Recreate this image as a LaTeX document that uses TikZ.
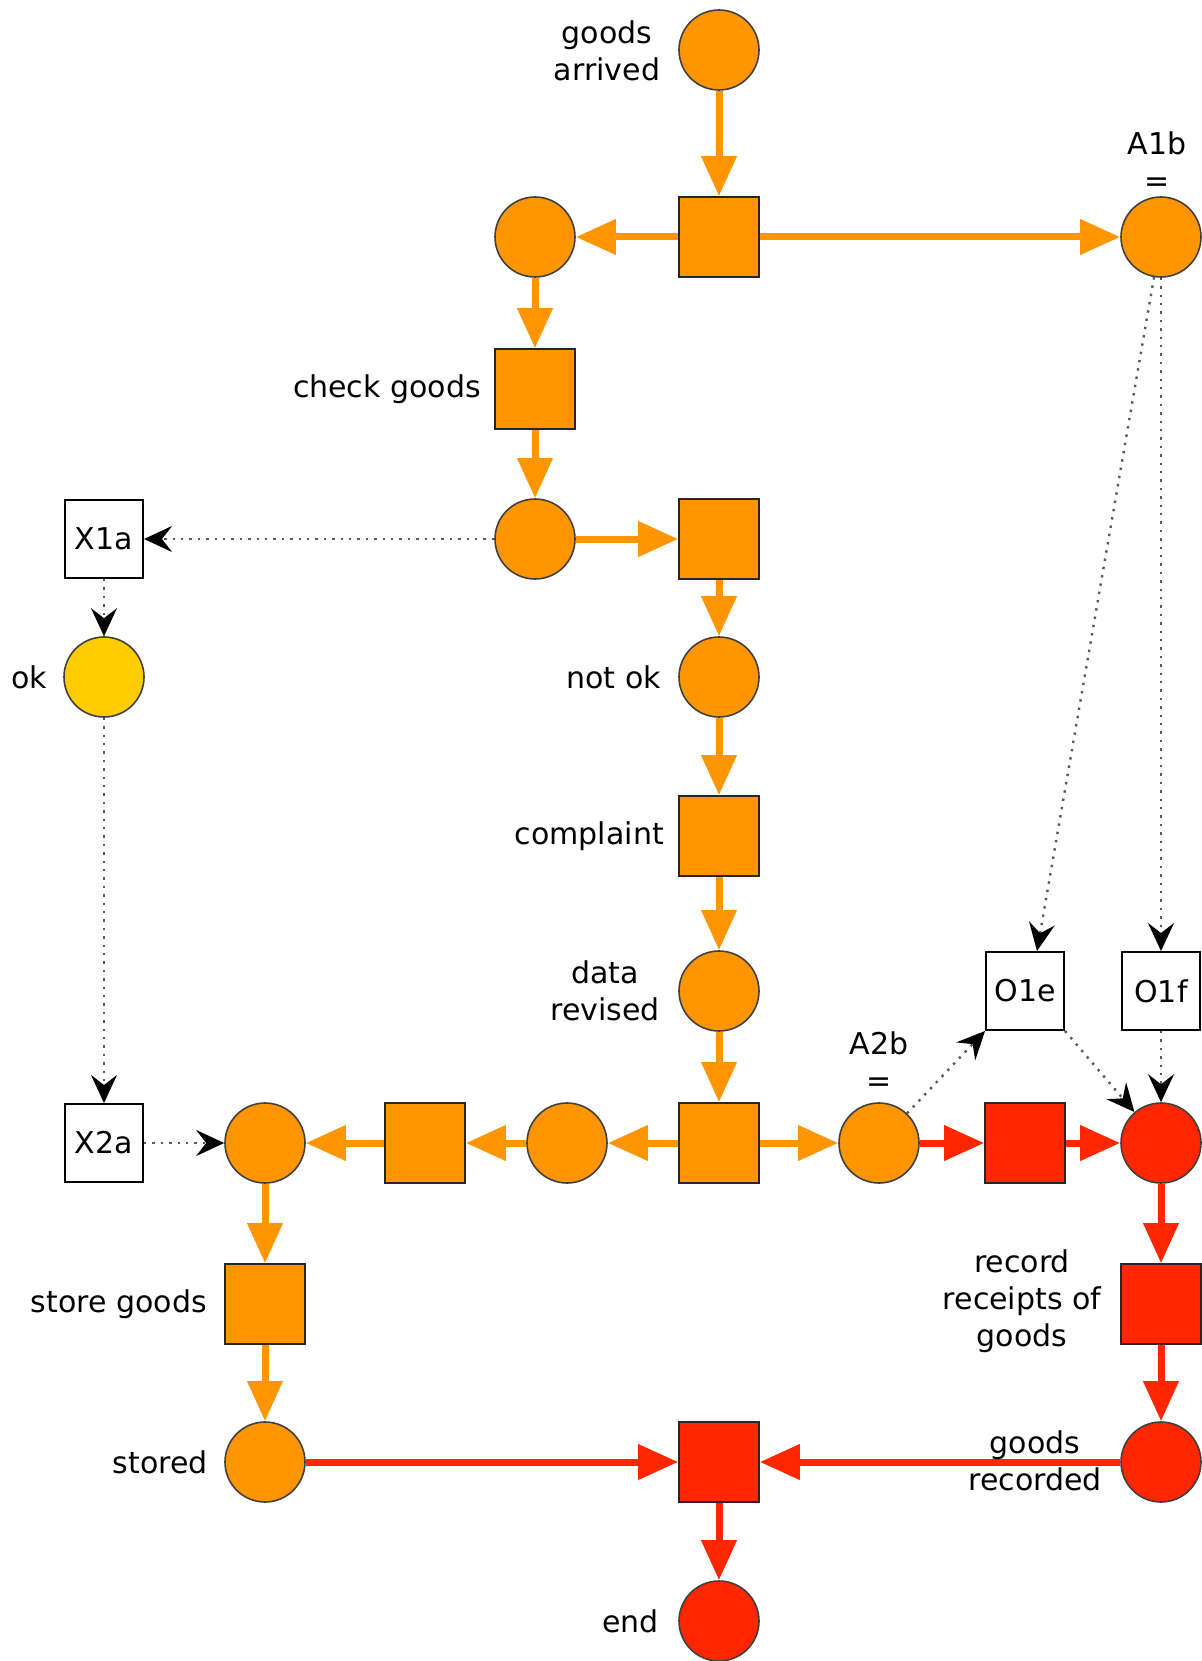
\documentclass[tikz,border=0pt]{standalone}
\usepackage{fontspec}
\setmainfont{DejaVu Sans}
\usetikzlibrary{arrows.meta}
\definecolor{orng}{HTML}{FF9500}
\definecolor{rd}{HTML}{FF2600}
\definecolor{yel}{HTML}{FFCC00}
\begin{document}
\begin{tikzpicture}[x=1pt,y=-1pt,
  font=\fontsize{30}{37}\selectfont,
  place/.style={circle, draw=black!75, line width=1.6pt, fill=orng, minimum size=80pt, inner sep=0pt},
  trans/.style={rectangle, draw=black!85, line width=1.6pt, fill=orng, minimum size=80pt, inner sep=0pt},
  box/.style={rectangle, draw=black, line width=2pt, fill=white, minimum size=78pt, inner sep=0pt},
  lbl/.style={align=center, inner sep=0pt},
  flow/.style={draw=orng, line width=7pt, -{Triangle[length=40pt,width=34pt]}},
  rflow/.style={draw=rd, line width=7pt, -{Triangle[length=40pt,width=34pt]}},
  dep/.style={draw=black!65, line width=2.4pt, dash pattern=on 2.4pt off 6pt, -{Stealth[length=28pt,width=26pt,inset=10pt,black]}}]
\useasboundingbox (0,0) rectangle (1201,1661);
% places and transitions
\node[place] (pa) at (719,50) {};
\node[trans] (t1) at (719,237) {};
\node[place] (p1) at (535,237) {};
\node[place] (a1b) at (1161,237) {};
\node[trans] (tc) at (535,389) {};
\node[place] (p2) at (535,539) {};
\node[trans] (t2) at (719,539) {};
\node[box] (x1a) at (104,539) {X1a};
\node[place, fill=yel] (ok) at (104,677) {};
\node[place] (nok) at (719,677) {};
\node[trans] (tcomp) at (719,836) {};
\node[place] (drev) at (719,991) {};
\node[box] (o1e) at (1025,991) {O1e};
\node[box] (o1f) at (1161,991) {O1f};
\node[box] (x2a) at (104,1143) {X2a};
\node[place] (p3) at (265,1143) {};
\node[trans] (t3) at (425,1143) {};
\node[place] (p4) at (567,1143) {};
\node[trans] (t4) at (719,1143) {};
\node[place] (a2b) at (879,1143) {};
\node[trans, fill=rd] (t5) at (1025,1143) {};
\node[place, fill=rd] (p5) at (1161,1143) {};
\node[trans] (tstore) at (265,1304) {};
\node[place] (pstored) at (265,1462) {};
\node[trans, fill=rd] (trec) at (1161,1304) {};
\node[place, fill=rd] (prec) at (1161,1462) {};
\node[trans, fill=rd] (tend) at (719,1462) {};
\node[place, fill=rd] (pend) at (719,1621) {};
% orange flows
\draw[flow] (pa) -- (t1);
\draw[flow] (t1) -- (p1);
\draw[flow] (t1) -- (a1b);
\draw[flow] (p1) -- (tc);
\draw[flow] (tc) -- (p2);
\draw[flow] (p2) -- (t2);
\draw[flow] (t2) -- (nok);
\draw[flow] (nok) -- (tcomp);
\draw[flow] (tcomp) -- (drev);
\draw[flow] (drev) -- (t4);
\draw[flow] (t4) -- (p4);
\draw[flow] (p4) -- (t3);
\draw[flow] (t3) -- (p3);
\draw[flow] (t4) -- (a2b);
\draw[flow] (p3) -- (tstore);
\draw[flow] (tstore) -- (pstored);
% red flows
\draw[rflow] (a2b) -- (t5);
\draw[rflow] (t5) -- (p5);
\draw[rflow] (p5) -- (trec);
\draw[rflow] (trec) -- (prec);
\draw[rflow] (prec) -- (tend);
\draw[rflow] (pstored) -- (tend);
\draw[rflow] (tend) -- (pend);
% dotted dependencies
\draw[dep] (p2) -- (x1a);
\draw[dep] (x1a) -- (ok);
\draw[dep] (ok) -- (x2a);
\draw[dep] (x2a) -- (p3);
\draw[dep] (a1b) -- ([xshift=12pt]o1e.north);
\draw[dep] (a1b) -- (o1f);
\draw[dep] (a2b) -- (o1e.south west);
\draw[dep] (o1e.south east) -- (p5);
\draw[dep] (o1f) -- (p5);
% labels
\node[lbl] (lpa) at (607,51) {goods\\arrived};
\node[lbl] (la1b) at (1157,162) {A1b\\=};
\node[lbl, anchor=east] (ltc) at (481,389) {check goods};
\node[lbl] (lok) at (29,677) {ok};
\node[lbl, anchor=east] (lnok) at (661,677) {not ok};
\node[lbl, anchor=east] (lcomp) at (664,836) {complaint};
\node[lbl] (ldrev) at (605,991) {data\\revised};
\node[lbl] (la2b) at (879,1062) {A2b\\=};
\node[lbl] (lrec) at (1022,1301) {record\\receipts of\\goods};
\node[lbl] (lprec) at (1035,1461) {goods\\recorded};
\node[lbl, anchor=east] (lstore) at (207,1304) {store goods};
\node[lbl, anchor=east] (lstored) at (208,1462) {stored};
\node[lbl, anchor=east] (lend) at (659,1621) {end};
\end{tikzpicture}
\end{document}
